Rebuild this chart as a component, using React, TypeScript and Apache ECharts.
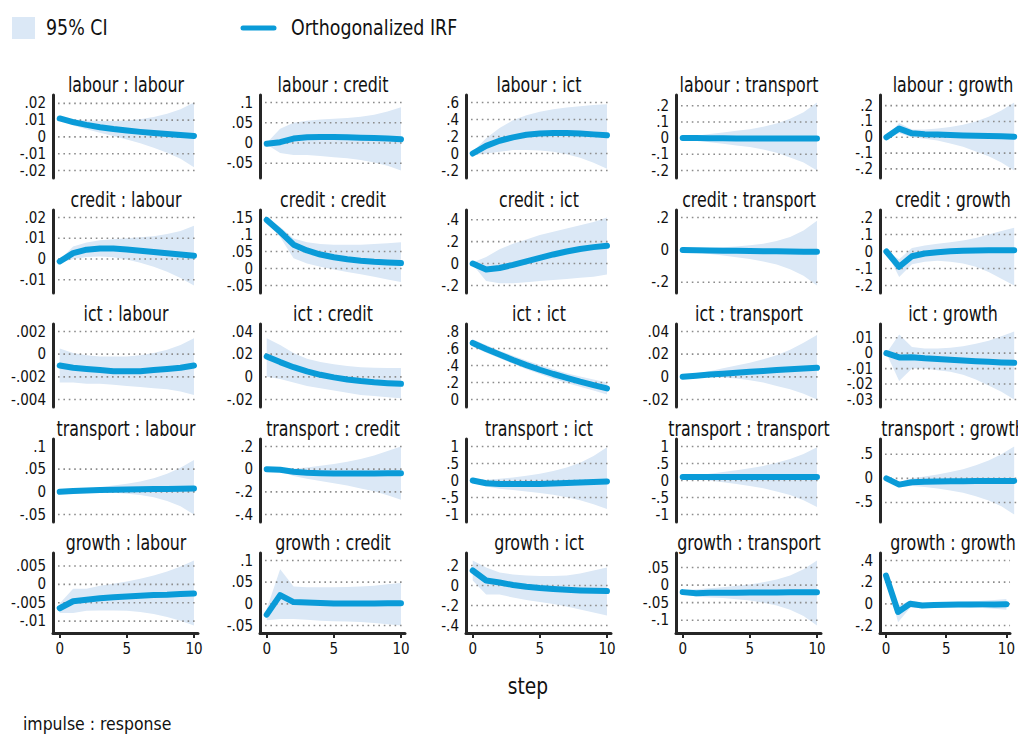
import React, { useEffect, useRef } from "react";
import * as echarts from "echarts";

// ---------- data ----------
const steps = [0, 1, 2, 3, 4, 5, 6, 7, 8, 9, 10];
const variables = ["labour", "credit", "ict", "transport", "growth"];

// impulse: labour
const labourLabourIrf = [0.011, 0.0088, 0.0072, 0.0058, 0.0047, 0.0038, 0.003, 0.0023, 0.0017, 0.0011, 0.0006];
const labourLabourHi = [0.0115, 0.0105, 0.0098, 0.0095, 0.0095, 0.0098, 0.0105, 0.0118, 0.0138, 0.0165, 0.0205];
const labourLabourLo = [0.0105, 0.0068, 0.0045, 0.0025, 0.0005, -0.0015, -0.0038, -0.0065, -0.0095, -0.013, -0.018];
const labourLabourTicks = [0.02, 0.01, 0, -0.01, -0.02];

const labourCreditIrf = [-0.002, 0.002, 0.011, 0.014, 0.015, 0.015, 0.014, 0.013, 0.012, 0.011, 0.009];
const labourCreditHi = [0.0, 0.035, 0.05, 0.055, 0.058, 0.06, 0.062, 0.065, 0.07, 0.078, 0.088];
const labourCreditLo = [-0.004, -0.025, -0.03, -0.03, -0.032, -0.035, -0.038, -0.042, -0.048, -0.056, -0.068];
const labourCreditTicks = [0.1, 0.05, 0, -0.05];

const labourIctIrf = [0.0, 0.09, 0.15, 0.19, 0.22, 0.235, 0.24, 0.24, 0.235, 0.225, 0.215];
const labourIctHi = [0.02, 0.18, 0.3, 0.39, 0.45, 0.49, 0.52, 0.54, 0.555, 0.57, 0.58];
const labourIctLo = [-0.02, 0.0, 0.02, 0.04, 0.04, 0.035, 0.02, -0.01, -0.05, -0.11, -0.18];
const labourIctTicks = [0.6, 0.4, 0.2, 0, -0.2];

const labourTransportIrf = [0, 0, -0.001, -0.001, -0.002, -0.002, -0.002, -0.002, -0.002, -0.002, -0.002];
const labourTransportHi = [0.003, 0.015, 0.025, 0.035, 0.045, 0.055, 0.07, 0.09, 0.12, 0.16, 0.22];
const labourTransportLo = [-0.003, -0.015, -0.025, -0.035, -0.045, -0.055, -0.07, -0.09, -0.12, -0.15, -0.2];
const labourTransportTicks = [0.2, 0.1, 0, -0.1, -0.2];

const labourGrowthIrf = [0, 0.055, 0.025, 0.02, 0.017, 0.014, 0.012, 0.01, 0.008, 0.006, 0.004];
const labourGrowthHi = [0.0, 0.09, 0.05, 0.05, 0.055, 0.065, 0.08, 0.1, 0.13, 0.17, 0.22];
const labourGrowthLo = [0.0, 0.025, 0.0, -0.01, -0.02, -0.04, -0.06, -0.09, -0.12, -0.16, -0.21];
const labourGrowthTicks = [0.2, 0.1, 0, -0.1, -0.2];

// impulse: credit
const creditLabourIrf = [-0.0012, 0.0028, 0.0045, 0.005, 0.005, 0.0046, 0.004, 0.0034, 0.0028, 0.0022, 0.0016];
const creditLabourHi = [-0.0005, 0.006, 0.008, 0.009, 0.0095, 0.01, 0.0105, 0.011, 0.012, 0.0135, 0.016];
const creditLabourLo = [-0.002, 0.0, 0.001, 0.0012, 0.0008, -0.0002, -0.0018, -0.0038, -0.0062, -0.0092, -0.0128];
const creditLabourTicks = [0.02, 0.01, 0, -0.01];

const creditCreditIrf = [0.143, 0.108, 0.07, 0.053, 0.041, 0.033, 0.027, 0.023, 0.02, 0.018, 0.016];
const creditCreditHi = [0.15, 0.122, 0.088, 0.077, 0.072, 0.07, 0.07, 0.07, 0.072, 0.074, 0.077];
const creditCreditLo = [0.135, 0.093, 0.03, 0.015, 0.005, -0.003, -0.01, -0.017, -0.024, -0.032, -0.04];
const creditCreditTicks = [0.15, 0.1, 0.05, 0, -0.05];

const creditIctIrf = [0.0, -0.055, -0.04, -0.012, 0.02, 0.052, 0.083, 0.11, 0.133, 0.15, 0.162];
const creditIctHi = [0.01, 0.06, 0.13, 0.18, 0.22, 0.26, 0.29, 0.32, 0.35, 0.38, 0.42];
const creditIctLo = [-0.01, -0.16, -0.18, -0.18, -0.17, -0.16, -0.15, -0.14, -0.13, -0.12, -0.1];
const creditIctTicks = [0.4, 0.2, 0, -0.2];

const creditTransportIrf = [0, -0.002, -0.004, -0.005, -0.006, -0.007, -0.008, -0.009, -0.01, -0.011, -0.012];
const creditTransportHi = [0.002, 0.008, 0.012, 0.016, 0.021, 0.028, 0.038, 0.055, 0.08, 0.12, 0.18];
const creditTransportLo = [-0.002, -0.015, -0.025, -0.035, -0.045, -0.057, -0.072, -0.09, -0.12, -0.16, -0.22];
const creditTransportTicks = [0.2, 0, -0.2];

const creditGrowthIrf = [0, -0.09, -0.028, -0.012, -0.004, 0.001, 0.004, 0.006, 0.007, 0.008, 0.008];
const creditGrowthHi = [0, -0.045, 0.02, 0.035, 0.045, 0.055, 0.065, 0.08, 0.1, 0.12, 0.14];
const creditGrowthLo = [0, -0.15, -0.075, -0.06, -0.055, -0.06, -0.07, -0.09, -0.12, -0.16, -0.2];
const creditGrowthTicks = [0.2, 0.1, 0, -0.1, -0.2];

// impulse: ict
const ictLabourIrf = [-0.001, -0.0012, -0.0013, -0.0014, -0.0015, -0.0015, -0.0015, -0.0014, -0.0013, -0.0012, -0.001];
const ictLabourHi = [0.0005, 0.0001, -0.0001, -0.0002, -0.0002, -0.0002, -0.0001, 0.0001, 0.0004, 0.0008, 0.0014];
const ictLabourLo = [-0.0025, -0.0025, -0.0026, -0.0026, -0.0027, -0.0028, -0.0029, -0.003, -0.0031, -0.0033, -0.0036];
const ictLabourTicks = [0.002, 0, -0.002, -0.004];

const ictCreditIrf = [0.018, 0.013, 0.0085, 0.0048, 0.0018, -0.0005, -0.0023, -0.0037, -0.0048, -0.0056, -0.0062];
const ictCreditHi = [0.034, 0.028, 0.021, 0.016, 0.013, 0.011, 0.0095, 0.0085, 0.008, 0.0078, 0.0078];
const ictCreditLo = [0.0, -0.002, -0.005, -0.008, -0.01, -0.012, -0.014, -0.016, -0.017, -0.018, -0.019];
const ictCreditTicks = [0.04, 0.02, 0, -0.02];

const ictIctIrf = [0.665, 0.595, 0.53, 0.465, 0.405, 0.35, 0.3, 0.255, 0.21, 0.17, 0.13];
const ictIctHi = [0.71, 0.64, 0.575, 0.515, 0.46, 0.405, 0.355, 0.31, 0.27, 0.235, 0.2];
const ictIctLo = [0.62, 0.55, 0.485, 0.42, 0.355, 0.3, 0.245, 0.195, 0.15, 0.105, 0.06];
const ictIctTicks = [0.8, 0.6, 0.4, 0.2, 0];

const ictTransportIrf = [0, 0.001, 0.002, 0.0028, 0.0036, 0.0044, 0.0052, 0.006, 0.0067, 0.0074, 0.008];
const ictTransportHi = [0.0005, 0.003, 0.005, 0.0075, 0.01, 0.0125, 0.0155, 0.019, 0.024, 0.03, 0.037];
const ictTransportLo = [-0.0005, 0.0, 0.0, -0.0005, -0.0015, -0.003, -0.005, -0.008, -0.011, -0.015, -0.02];
const ictTransportTicks = [0.04, 0.02, 0, -0.02];

const ictGrowthIrf = [0, -0.0028, -0.0026, -0.0033, -0.0038, -0.0043, -0.0048, -0.0052, -0.0056, -0.006, -0.0063];
const ictGrowthHi = [0, 0.012, 0.004, 0.003, 0.003, 0.0035, 0.0045, 0.006, 0.008, 0.011, 0.014];
const ictGrowthLo = [0, -0.018, -0.01, -0.01, -0.011, -0.012, -0.014, -0.017, -0.021, -0.025, -0.03];
const ictGrowthTicks = [0.01, 0, -0.01, -0.02, -0.03];

// impulse: transport
const transportLabourIrf = [0, 0.002, 0.003, 0.0038, 0.0045, 0.005, 0.0055, 0.006, 0.0065, 0.007, 0.0075];
const transportLabourHi = [0.001, 0.004, 0.007, 0.01, 0.014, 0.018, 0.023, 0.03, 0.04, 0.053, 0.07];
const transportLabourLo = [-0.001, 0.0, 0.0, -0.001, -0.002, -0.004, -0.007, -0.012, -0.02, -0.032, -0.05];
const transportLabourTicks = [0.1, 0.05, 0, -0.05];

const transportCreditIrf = [0, -0.005, -0.022, -0.032, -0.036, -0.038, -0.038, -0.038, -0.038, -0.037, -0.036];
const transportCreditHi = [0.005, 0.005, 0.005, 0.015, 0.03, 0.045, 0.065, 0.09, 0.12, 0.16, 0.2];
const transportCreditLo = [-0.005, -0.02, -0.06, -0.085, -0.105, -0.125, -0.145, -0.17, -0.195, -0.23, -0.27];
const transportCreditTicks = [0.2, 0, -0.2, -0.4];

const transportIctIrf = [0, -0.08, -0.1, -0.105, -0.105, -0.1, -0.09, -0.075, -0.06, -0.045, -0.03];
const transportIctHi = [0.01, 0.02, 0.05, 0.09, 0.14, 0.2, 0.28, 0.38, 0.52, 0.72, 0.98];
const transportIctLo = [-0.01, -0.18, -0.24, -0.28, -0.32, -0.37, -0.42, -0.49, -0.58, -0.7, -0.84];
const transportIctTicks = [1, 0.5, 0, -0.5, -1];

const transportTransportIrf = [0.1, 0.1, 0.1, 0.1, 0.1, 0.1, 0.1, 0.1, 0.1, 0.1, 0.1];
const transportTransportHi = [0.11, 0.15, 0.2, 0.25, 0.3, 0.36, 0.43, 0.52, 0.63, 0.78, 0.98];
const transportTransportLo = [0.09, 0.05, 0.0, -0.05, -0.1, -0.16, -0.23, -0.32, -0.43, -0.58, -0.78];
const transportTransportTicks = [1, 0.5, 0, -0.5, -1];

const transportGrowthIrf = [0, -0.13, -0.08, -0.07, -0.065, -0.06, -0.058, -0.056, -0.055, -0.054, -0.053];
const transportGrowthHi = [0, -0.08, 0.0, 0.04, 0.08, 0.13, 0.19, 0.27, 0.37, 0.5, 0.66];
const transportGrowthLo = [0, -0.18, -0.16, -0.18, -0.21, -0.25, -0.3, -0.37, -0.46, -0.58, -0.75];
const transportGrowthTicks = [0.5, 0, -0.5];

// impulse: growth
const growthLabourIrf = [-0.0065, -0.0046, -0.0042, -0.0038, -0.0035, -0.0033, -0.0031, -0.0029, -0.0028, -0.0026, -0.0025];
const growthLabourHi = [-0.0052, -0.0012, -0.0012, -0.0004, 0.0002, 0.0008, 0.0015, 0.0024, 0.0035, 0.0049, 0.0065];
const growthLabourLo = [-0.0078, -0.0078, -0.0072, -0.0071, -0.0071, -0.0072, -0.0075, -0.0081, -0.0089, -0.0099, -0.0112];
const growthLabourTicks = [0.005, 0, -0.005, -0.01];

const growthCreditIrf = [-0.025, 0.02, 0.004, 0.003, 0.002, 0.001, 0.001, 0.001, 0.001, 0.0015, 0.0015];
const growthCreditHi = [-0.012, 0.08, 0.04, 0.038, 0.038, 0.038, 0.039, 0.04, 0.042, 0.045, 0.048];
const growthCreditLo = [-0.038, -0.035, -0.035, -0.037, -0.039, -0.04, -0.041, -0.042, -0.044, -0.047, -0.05];
const growthCreditTicks = [0.1, 0.05, 0, -0.05];

const growthIctIrf = [0.15, 0.05, 0.03, 0.005, -0.012, -0.025, -0.035, -0.043, -0.049, -0.053, -0.056];
const growthIctHi = [0.25, 0.18, 0.13, 0.11, 0.1, 0.095, 0.095, 0.1, 0.12, 0.15, 0.18];
const growthIctLo = [0.05, -0.09, -0.09, -0.12, -0.145, -0.165, -0.185, -0.21, -0.24, -0.27, -0.3];
const growthIctTicks = [0.2, 0, -0.2, -0.4];

const growthTransportIrf = [-0.02, -0.023, -0.022, -0.022, -0.0215, -0.021, -0.021, -0.021, -0.0205, -0.0205, -0.0205];
const growthTransportHi = [-0.015, -0.012, -0.009, -0.006, -0.002, 0.002, 0.008, 0.016, 0.027, 0.045, 0.07];
const growthTransportLo = [-0.025, -0.033, -0.035, -0.037, -0.04, -0.044, -0.05, -0.058, -0.07, -0.088, -0.115];
const growthTransportTicks = [0.05, 0, -0.05, -0.1];

const growthGrowthIrf = [0.26, -0.075, 0.0, -0.015, -0.01, -0.008, -0.007, -0.006, -0.005, -0.005, -0.004];
const growthGrowthHi = [0.28, -0.02, 0.03, 0.01, 0.012, 0.015, 0.018, 0.022, 0.028, 0.035, 0.045];
const growthGrowthLo = [0.24, -0.17, -0.035, -0.04, -0.035, -0.032, -0.032, -0.034, -0.038, -0.045, -0.055];
const growthGrowthTicks = [0.4, 0.2, 0, -0.2];

const xTicks = [0, 5, 10];
const transportLabourNoGrid = [0.1];

type Panel = { irf: number[]; hi: number[]; lo: number[]; ticks: number[]; noGrid?: number[] };
const panelRows: Panel[][] = [
  [
    { irf: labourLabourIrf, hi: labourLabourHi, lo: labourLabourLo, ticks: labourLabourTicks },
    { irf: labourCreditIrf, hi: labourCreditHi, lo: labourCreditLo, ticks: labourCreditTicks },
    { irf: labourIctIrf, hi: labourIctHi, lo: labourIctLo, ticks: labourIctTicks },
    { irf: labourTransportIrf, hi: labourTransportHi, lo: labourTransportLo, ticks: labourTransportTicks },
    { irf: labourGrowthIrf, hi: labourGrowthHi, lo: labourGrowthLo, ticks: labourGrowthTicks },
  ],
  [
    { irf: creditLabourIrf, hi: creditLabourHi, lo: creditLabourLo, ticks: creditLabourTicks },
    { irf: creditCreditIrf, hi: creditCreditHi, lo: creditCreditLo, ticks: creditCreditTicks },
    { irf: creditIctIrf, hi: creditIctHi, lo: creditIctLo, ticks: creditIctTicks },
    { irf: creditTransportIrf, hi: creditTransportHi, lo: creditTransportLo, ticks: creditTransportTicks },
    { irf: creditGrowthIrf, hi: creditGrowthHi, lo: creditGrowthLo, ticks: creditGrowthTicks },
  ],
  [
    { irf: ictLabourIrf, hi: ictLabourHi, lo: ictLabourLo, ticks: ictLabourTicks },
    { irf: ictCreditIrf, hi: ictCreditHi, lo: ictCreditLo, ticks: ictCreditTicks },
    { irf: ictIctIrf, hi: ictIctHi, lo: ictIctLo, ticks: ictIctTicks },
    { irf: ictTransportIrf, hi: ictTransportHi, lo: ictTransportLo, ticks: ictTransportTicks },
    { irf: ictGrowthIrf, hi: ictGrowthHi, lo: ictGrowthLo, ticks: ictGrowthTicks },
  ],
  [
    { irf: transportLabourIrf, hi: transportLabourHi, lo: transportLabourLo, ticks: transportLabourTicks, noGrid: transportLabourNoGrid },
    { irf: transportCreditIrf, hi: transportCreditHi, lo: transportCreditLo, ticks: transportCreditTicks },
    { irf: transportIctIrf, hi: transportIctHi, lo: transportIctLo, ticks: transportIctTicks },
    { irf: transportTransportIrf, hi: transportTransportHi, lo: transportTransportLo, ticks: transportTransportTicks },
    { irf: transportGrowthIrf, hi: transportGrowthHi, lo: transportGrowthLo, ticks: transportGrowthTicks },
  ],
  [
    { irf: growthLabourIrf, hi: growthLabourHi, lo: growthLabourLo, ticks: growthLabourTicks },
    { irf: growthCreditIrf, hi: growthCreditHi, lo: growthCreditLo, ticks: growthCreditTicks },
    { irf: growthIctIrf, hi: growthIctHi, lo: growthIctLo, ticks: growthIctTicks },
    { irf: growthTransportIrf, hi: growthTransportHi, lo: growthTransportLo, ticks: growthTransportTicks },
    { irf: growthGrowthIrf, hi: growthGrowthHi, lo: growthGrowthLo, ticks: growthGrowthTicks },
  ],
];

// ---------- style / layout ----------
const FONT = "'Liberation Sans Narrow', 'Arial Narrow', 'DejaVu Sans Condensed', sans-serif";
const LINE = "#0a9bd8";
const BAND = "#dbe8f6";
const AXIS = "#262626";
const GRID = "#8c8c8c";
const TXT = "#111111";
const colAxisX = [53, 260, 466, 676, 880];
const rowTop = [95, 210, 324, 439, 553];
const rowH = [83, 83, 83, 83, 80];
const PW = 145;
const X_MIN = -0.5;
const X_MAX = 10.3;
const PAD_PX = 7.5;
const TITLE_SCALE = 0.8;
const LEGEND_SCALE = 0.88;

const fmt = (v: number) => {
  if (Math.abs(v) < 1e-12) return "0";
  const s = String(Math.abs(v)).replace(/^0\./, ".");
  return (v < 0 ? "-" : "") + s;
};

function buildOption() {
  const grid: any[] = [];
  const xAxis: any[] = [];
  const yAxis: any[] = [];
  const series: any[] = [];
  const graphic: any[] = [];

  panelRows.forEach((row, r) => {
    row.forEach((p, c) => {
      const i = r * 5 + c;
      const H = rowH[r];
      const dMin = Math.min(...p.lo, ...p.irf, ...p.ticks);
      const dMax = Math.max(...p.hi, ...p.irf, ...p.ticks);
      const pad = ((dMax - dMin) * PAD_PX) / (H - 2 * PAD_PX);
      grid.push({ left: colAxisX[c], top: rowTop[r], width: PW, height: H });
      xAxis.push({
        type: "value",
        gridIndex: i,
        min: X_MIN,
        max: X_MAX,
        show: r === 4,
        axisLine: { show: true, onZero: false, lineStyle: { color: AXIS, width: 3 } },
        axisTick: { show: true, customValues: xTicks, length: 5, lineStyle: { color: AXIS, width: 2 } },
        axisLabel: { customValues: xTicks, fontSize: 15, color: TXT, fontFamily: FONT, margin: 8, hideOverlap: false },
        splitLine: { show: false },
      });
      yAxis.push({
        type: "value",
        gridIndex: i,
        min: dMin - pad,
        max: dMax + pad,
        axisLine: { show: true, onZero: false, lineStyle: { color: AXIS, width: 3 } },
        axisTick: { show: false },
        axisLabel: {
          customValues: p.ticks,
          formatter: fmt,
          fontSize: 15,
          lineHeight: 14,
          color: TXT,
          fontFamily: FONT,
          margin: 7,
          hideOverlap: false,
          showMinLabel: true,
          showMaxLabel: true,
        },
        splitLine: { show: false },
      });
      const band = { lo: p.lo, hi: p.hi, ticks: p.ticks, noGrid: p.noGrid || [] };
      series.push({
        type: "custom",
        xAxisIndex: i,
        yAxisIndex: i,
        silent: true,
        z: 1,
        dimensions: ["step", "lo", "hi"],
        encode: { x: 0, y: [1, 2] },
        data: steps.map((s, k) => [s, band.lo[k], band.hi[k]]),
        renderItem: (params: any, api: any) => {
          if (params.dataIndex !== 0) return null;
          const cs = params.coordSys;
          const pts: number[][] = [];
          for (let k = 0; k < steps.length; k++) pts.push(api.coord([steps[k], band.hi[k]]));
          for (let k = steps.length - 1; k >= 0; k--) pts.push(api.coord([steps[k], band.lo[k]]));
          const children: any[] = [{ type: "polygon", shape: { points: pts }, style: { fill: BAND } }];
          band.ticks.forEach((t) => {
            if (band.noGrid.indexOf(t) >= 0) return;
            const y = api.coord([0, t])[1];
            children.push({
              type: "line",
              shape: { x1: cs.x + 5, y1: y, x2: cs.x + cs.width, y2: y },
              style: { stroke: GRID, lineWidth: 1.6, lineDash: [1.6, 3.8] },
            });
          });
          return { type: "group", children };
        },
      });
      series.push({
        type: "line",
        xAxisIndex: i,
        yAxisIndex: i,
        z: 3,
        silent: true,
        showSymbol: false,
        symbol: "none",
        data: steps.map((s, k) => [s, p.irf[k]]),
        lineStyle: { color: LINE, width: 6, cap: "round", join: "round" },
      });
      graphic.push({
        type: "text",
        x: colAxisX[c] + 73,
        y: rowTop[r] - 10,
        scaleX: TITLE_SCALE,
        style: {
          text: `${variables[r]} : ${variables[c]}`,
          font: `22px ${FONT}`,
          fill: TXT,
          textAlign: "center",
          textVerticalAlign: "middle",
        },
      });
    });
  });

  // legend
  graphic.push({ type: "rect", shape: { x: 12, y: 17, width: 23, height: 22 }, style: { fill: BAND } });
  graphic.push({
    type: "text",
    x: 46,
    y: 28,
    scaleX: LEGEND_SCALE,
    style: { text: "95% CI", font: `22px ${FONT}`, fill: TXT, textVerticalAlign: "middle" },
  });
  graphic.push({
    type: "line",
    shape: { x1: 243, y1: 28, x2: 274, y2: 28 },
    style: { stroke: LINE, lineWidth: 5, lineCap: "round" },
  });
  graphic.push({
    type: "text",
    x: 291,
    y: 28,
    scaleX: LEGEND_SCALE,
    style: { text: "Orthogonalized IRF", font: `22px ${FONT}`, fill: TXT, textVerticalAlign: "middle" },
  });
  // axis title & note
  graphic.push({
    type: "text",
    x: 528,
    y: 686,
    scaleX: 0.9,
    style: { text: "step", font: `23px ${FONT}`, fill: TXT, textAlign: "center", textVerticalAlign: "middle" },
  });
  graphic.push({
    type: "text",
    x: 23,
    y: 724,
    scaleX: 0.97,
    style: { text: "impulse : response", font: `18px ${FONT}`, fill: TXT, textVerticalAlign: "middle" },
  });

  return {
    animation: false,
    backgroundColor: "#ffffff",
    textStyle: { fontFamily: FONT },
    grid,
    xAxis,
    yAxis,
    series,
    graphic,
  };
}

export default function App() {
  const ref = useRef<HTMLDivElement>(null);
  useEffect(() => {
    document.body.style.margin = "0";
    document.body.style.overflow = "hidden";
    if (!ref.current) return;
    const chart = echarts.init(ref.current, undefined, { renderer: "svg" });
    chart.setOption(buildOption() as any);
    return () => chart.dispose();
  }, []);
  return <div ref={ref} style={{ width: 1018, height: 734, background: "#fff" }} />;
}
